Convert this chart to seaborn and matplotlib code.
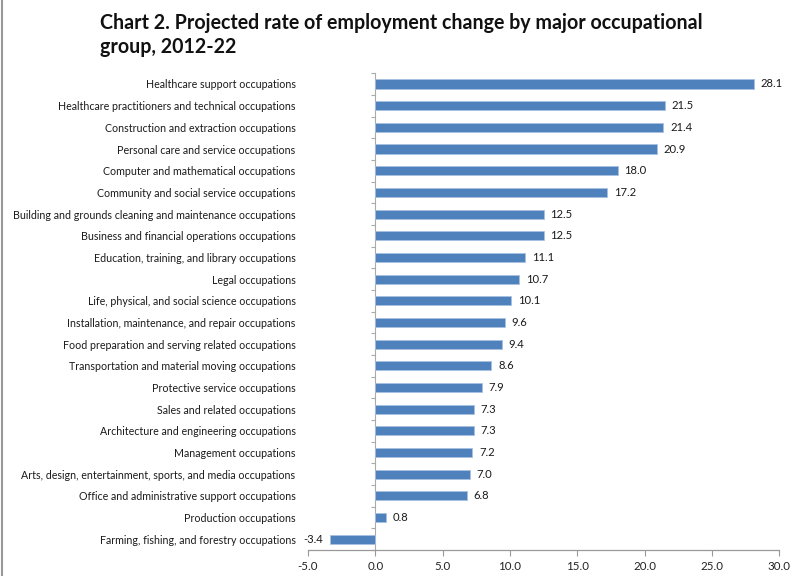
import matplotlib
matplotlib.use("Agg")
import matplotlib.pyplot as plt
import seaborn as sns
import pandas as pd
from matplotlib.lines import Line2D

categories = [
    "Healthcare support occupations",
    "Healthcare practitioners and technical occupations",
    "Construction and extraction occupations",
    "Personal care and service occupations",
    "Computer and mathematical occupations",
    "Community and social service occupations",
    "Building and grounds cleaning and maintenance occupations",
    "Business and financial operations occupations",
    "Education, training, and library occupations",
    "Legal occupations",
    "Life, physical, and social science occupations",
    "Installation, maintenance, and repair occupations",
    "Food preparation and serving related occupations",
    "Transportation and material moving occupations",
    "Protective service occupations",
    "Sales and related occupations",
    "Architecture and engineering occupations",
    "Management occupations",
    "Arts, design, entertainment, sports, and media occupations",
    "Office and administrative support occupations",
    "Production occupations",
    "Farming, fishing, and forestry occupations",
]
values = [28.1, 21.5, 21.4, 20.9, 18.0, 17.2, 12.5, 12.5, 11.1, 10.7, 10.1,
          9.6, 9.4, 8.6, 7.9, 7.3, 7.3, 7.2, 7.0, 6.8, 0.8, -3.4]
x_ticks = [-5, 0, 5, 10, 15, 20, 25, 30]
title = "Chart 2. Projected rate of employment change by major occupational\ngroup, 2012-22"

sns.set_theme(style="white")
plt.rcParams["font.family"] = ["Lato", "DejaVu Sans"]

df = pd.DataFrame({"category": categories, "value": values})

fig = plt.figure(figsize=(8, 5.76), dpi=100)
ax = fig.add_axes([0.385, 0.045, 0.589, 0.828])

sns.barplot(data=df, y="category", x="value", orient="h", color="#4F81BD",
            saturation=1, width=0.42, edgecolor="#A9C1E0", linewidth=0.6, ax=ax)

ax.set_xlim(-5, 30)
ax.set_ylim(len(categories) - 0.5, -0.5)
ax.set_xticks(x_ticks)
ax.set_xticklabels([f"{t:.1f}" for t in x_ticks], fontsize=8.3, color="#222222")
ax.set_xlabel("")
ax.set_ylabel("")
ax.tick_params(axis="x", length=4, width=0.8, color="#999999", pad=4, bottom=True)
ax.tick_params(axis="y", length=0, pad=9, labelsize=7.7, labelcolor="#1a1a1a")

for s in ["top", "right", "left"]:
    ax.spines[s].set_visible(False)
ax.spines["bottom"].set_color("#999999")
ax.spines["bottom"].set_linewidth(0.9)

# y axis line at x = 0
sec = ax.secondary_yaxis((0 - (-5)) / 35)
sec.spines["left"].set_color("#aaaaaa")
sec.spines["left"].set_linewidth(0.8)
sec.set_yticks([i + 0.5 for i in range(-1, len(categories))])
sec.set_yticklabels([])
sec.tick_params(axis="y", length=3, width=0.8, color="#aaaaaa")

for cont in ax.containers:
    ax.bar_label(cont, fmt="%.1f", padding=5, fontsize=8.1, color="#1a1a1a")

fig.text(0.125, 0.978, title, fontsize=14.1, fontweight="bold", va="top",
         ha="left", color="#111111", linespacing=1.3)

fig.add_artist(Line2D([0.002, 0.002], [0, 1], transform=fig.transFigure,
                      color="#999999", linewidth=1.5))

fig.savefig("out.png", dpi=100, facecolor="white")
